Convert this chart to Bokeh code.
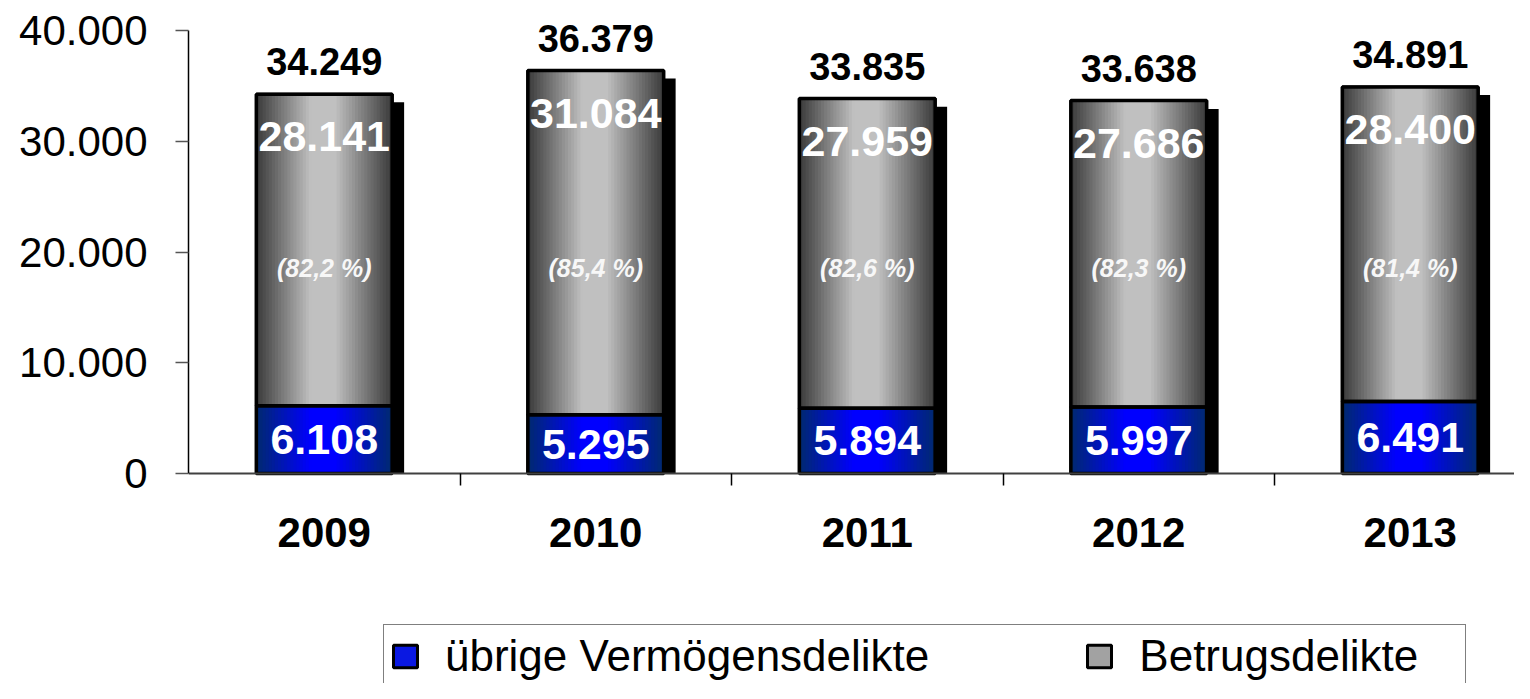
import numpy as np
from bokeh.plotting import figure
from bokeh.models import (ColumnDataSource, FixedTicker, LabelSet, Legend,
                          LegendItem, Range1d)
from bokeh.core.properties import value
from bokeh.embed import file_html
from bokeh.resources import INLINE

# ---------------- data ----------------
years = ["2009", "2010", "2011", "2012", "2013"]
betrug = [28141, 31084, 27959, 27686, 28400]          # Betrugsdelikte
uebrige = [6108, 5295, 5894, 5997, 6491]              # übrige Vermögensdelikte
totals = [34249, 36379, 33835, 33638, 34891]
betrug_labels = ["28.141", "31.084", "27.959", "27.686", "28.400"]
uebrige_labels = ["6.108", "5.295", "5.894", "5.997", "6.491"]
total_labels = ["34.249", "36.379", "33.835", "33.638", "34.891"]
pct_labels = ["(82,2 %)", "(85,4 %)", "(82,6 %)", "(82,3 %)", "(81,4 %)"]
y_ticks = [0, 10000, 20000, 30000, 40000]
y_tick_labels = ["0", "10.000", "20.000", "30.000", "40.000"]

# ---------------- layout / style ----------------
W, H = 1514, 683
FRAME_LEFT = 188
ZERO_PX, TOP_PX = 473, 30          # screen rows of 0 and 40.000
PX_PER_CAT = 271.5
X_END = -0.5 + (W - FRAME_LEFT) / PX_PER_CAT
Y_AXIS_MAX = 40000
PX_PER_UNIT = (ZERO_PX - TOP_PX) / Y_AXIS_MAX
Y_HI = Y_AXIS_MAX + TOP_PX / PX_PER_UNIT
Y_LO = -(H - ZERO_PX) / PX_PER_UNIT
BAR_W = 0.5
SHADOW_DX = 12 / PX_PER_CAT
SHADOW_DY = 8 / PX_PER_UNIT
PCT_Y = 18600
FONT = value("Liberation Sans")

GRAY_EDGE, GRAY_CENTER = (58, 58, 58), (192, 192, 192)
BLUE_EDGE, BLUE_CENTER = (0, 42, 110), (0, 0, 255)

xs = np.arange(len(years), dtype=float)
bottoms_b = np.array(uebrige, dtype=float)
tops_b = bottoms_b + np.array(betrug, dtype=float)


def gradient_strips(bottoms, tops, edge, center, n=44):
    L, R, B, T, C = [], [], [], [], []
    dx = BAR_W / n
    for i, (b, t) in enumerate(zip(bottoms, tops)):
        x0 = xs[i] - BAR_W / 2
        for k in range(n):
            s = (k + 0.5) / n
            f = np.interp(s, [0, 0.4, 0.58, 1], [0, 1, 1, 0])
            col = tuple(int(round(e + (c - e) * f)) for e, c in zip(edge, center))
            L.append(x0 + k * dx)
            R.append(x0 + (k + 1) * dx + (dx * 0.4 if k < n - 1 else 0))
            B.append(b)
            T.append(t)
            C.append("#%02x%02x%02x" % col)
    return ColumnDataSource(dict(left=L, right=R, bottom=B, top=T, color=C))


p = figure(width=W, height=H, output_backend="svg", toolbar_location=None,
           x_range=Range1d(-0.5, X_END), y_range=Range1d(Y_LO, Y_HI),
           min_border_left=FRAME_LEFT, min_border_top=0,
           min_border_bottom=0, min_border_right=0)
p.outline_line_color = None
p.xgrid.visible = False
p.ygrid.visible = False
p.background_fill_color = "white"
p.border_fill_color = "white"

# shadows
p.quad(left=xs - BAR_W / 2 + SHADOW_DX, right=xs + BAR_W / 2 + SHADOW_DX,
       bottom=0, top=np.array(totals) - SHADOW_DY,
       fill_color="black", line_color=None)

# base fills (under the gradient strips); also used as legend swatches
r_blue = p.quad(left=xs - BAR_W / 2, right=xs + BAR_W / 2, bottom=0, top=uebrige,
                fill_color="#0a18e2", line_color="black", line_width=3)
r_gray = p.quad(left=xs - BAR_W / 2, right=xs + BAR_W / 2, bottom=bottoms_b, top=tops_b,
                fill_color="#a2a2a2", line_color="black", line_width=3)

src_blue = gradient_strips(np.zeros(len(years)), np.array(uebrige, float), BLUE_EDGE, BLUE_CENTER)
src_gray = gradient_strips(bottoms_b, tops_b, GRAY_EDGE, GRAY_CENTER)
p.quad(left="left", right="right", bottom="bottom", top="top", fill_color="color",
       line_color=None, source=src_blue)
p.quad(left="left", right="right", bottom="bottom", top="top", fill_color="color",
       line_color=None, source=src_gray)

# outlines
p.quad(left=xs - BAR_W / 2, right=xs + BAR_W / 2, bottom=0, top=uebrige,
       fill_color=None, line_color="black", line_width=3.5)
p.quad(left=xs - BAR_W / 2, right=xs + BAR_W / 2, bottom=bottoms_b, top=tops_b,
       fill_color=None, line_color="black", line_width=3.5)

# labels
lab_src = ColumnDataSource(dict(
    x=xs, total=totals, uebrige_mid=np.array(uebrige) / 2, pct_y=[PCT_Y] * len(years),
    total_lab=total_labels, betrug_lab=betrug_labels, uebrige_lab=uebrige_labels,
    pct_lab=pct_labels))

p.add_layout(LabelSet(x="x", y="total", text="total_lab", source=lab_src,
                      y_offset=19, text_align="center", text_baseline="alphabetic",
                      text_font=FONT, text_font_style="bold", text_font_size="38px",
                      text_color="black"))
p.add_layout(LabelSet(x="x", y="total", text="betrug_lab", source=lab_src,
                      y_offset=-57, text_align="center", text_baseline="alphabetic",
                      text_font=FONT, text_font_style="bold", text_font_size="43px",
                      text_color="white"))
p.add_layout(LabelSet(x="x", y="uebrige_mid", text="uebrige_lab", source=lab_src,
                      text_align="center", text_baseline="middle",
                      text_font=FONT, text_font_style="bold", text_font_size="43px",
                      text_color="white"))
p.add_layout(LabelSet(x="x", y="pct_y", text="pct_lab", source=lab_src,
                      text_align="center", text_baseline="middle",
                      text_font=FONT, text_font_style="bold italic", text_font_size="25px",
                      text_color="#f7f7f7"))

# axes
xa = p.xaxis[0]
xa.fixed_location = 0
xa.ticker = FixedTicker(ticks=list(xs), minor_ticks=list(xs[:-1] + 0.5))
xa.major_label_overrides = {i: y for i, y in enumerate(years)}
xa.major_tick_line_color = None
xa.major_tick_in = 0
xa.major_tick_out = 0
xa.minor_tick_in = 0
xa.minor_tick_out = 12
xa.minor_tick_line_color = "black"
xa.minor_tick_line_width = 1.5
xa.axis_line_color = "#404040"
xa.axis_line_width = 2
xa.major_label_standoff = 32
xa.major_label_text_font = "Liberation Sans"
xa.major_label_text_font_style = "bold"
xa.major_label_text_font_size = "42px"
xa.major_label_text_color = "black"

ya = p.yaxis[0]
ya.bounds = (0, Y_AXIS_MAX)
ya.ticker = FixedTicker(ticks=y_ticks)
ya.major_label_overrides = {t: l for t, l in zip(y_ticks, y_tick_labels)}
ya.major_tick_in = 0
ya.major_tick_out = 13
ya.major_tick_line_color = "#555555"
ya.major_tick_line_width = 1.5
ya.minor_tick_line_color = None
ya.axis_line_color = "black"
ya.axis_line_width = 1.5
ya.major_label_standoff = 28
ya.major_label_text_font = "Liberation Sans"
ya.major_label_text_font_size = "42px"
ya.major_label_text_color = "black"

# legend
legend = Legend(items=[LegendItem(label="übrige Vermögensdelikte", renderers=[r_blue]),
                       LegendItem(label="Betrugsdelikte", renderers=[r_gray])],
                orientation="horizontal", location=(195, -5), margin=0,
                padding=6, spacing=155, glyph_width=30, glyph_height=28,
                label_standoff=25, label_width=320, label_text_font="Liberation Sans",
                label_text_font_size="44px", label_text_color="black",
                border_line_color="black", border_line_width=1.5,
                background_fill_color="white", background_fill_alpha=1)
p.add_layout(legend)

open("out.html", "w").write(file_html(p, INLINE))
